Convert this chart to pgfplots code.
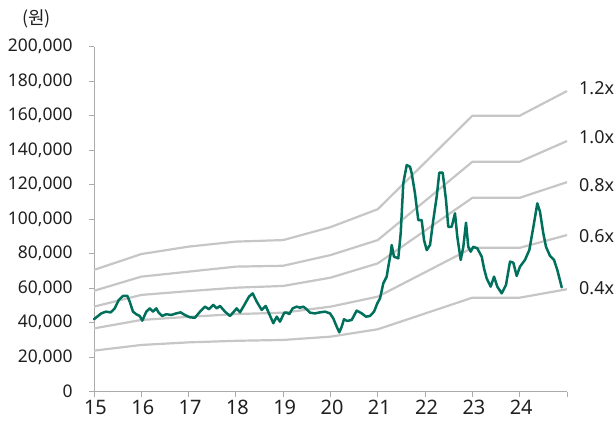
\documentclass[border=0pt]{standalone}
\usepackage{fontspec}
\setmainfont{Noto Sans}
\newfontfamily\kr{Noto Sans CJK KR}
\usepackage{pgfplots}
\pgfplotsset{compat=1.18}
\definecolor{bandgray}{HTML}{C6C6C6}
\definecolor{price}{HTML}{00705C}
\definecolor{axgray}{HTML}{ABABAB}
\definecolor{txt}{HTML}{202020}

\pgfplotstableread{
x y
15 70600
16 79800
17 84100
18 87000
19 87900
20 95400
21 105800
23 160000
24 160000
25 174300
}\bandA
\pgfplotstableread{
x y
15 58500
16 66700
17 69600
18 72500
19 73000
20 79200
21 87900
23 133300
24 133300
25 145300
}\bandB
\pgfplotstableread{
x y
15 49300
16 56100
17 58300
18 60300
19 61300
20 66100
21 74400
23 112400
24 112400
25 121500
}\bandC
\pgfplotstableread{
x y
15 36700
16 41600
17 43400
18 45000
19 45800
20 49300
21 55100
23 83400
24 83400
25 90800
}\bandD
\pgfplotstableread{
x y
15 23800
16 27100
17 28600
18 29500
19 30000
20 31900
21 36200
23 54500
24 54500
25 59400
}\bandE
\pgfplotstableread{
x y
15.000 42000
15.154 45400
15.254 46400
15.353 46000
15.438 48300
15.522 53100
15.613 55500
15.704 55600
15.755 52200
15.825 46400
15.894 44900
15.966 43900
16.021 41200
16.106 46400
16.178 48300
16.247 46400
16.317 48300
16.368 45800
16.438 43900
16.529 44900
16.634 44500
16.740 45400
16.833 46000
16.918 44500
17.030 43100
17.135 42900
17.241 46400
17.347 49300
17.431 47800
17.522 50300
17.594 48300
17.664 49700
17.770 46400
17.875 43900
17.945 46000
18.017 48300
18.087 46000
18.178 50300
18.277 55100
18.355 57000
18.440 52200
18.545 47400
18.630 49700
18.700 45400
18.791 39700
18.863 43500
18.932 40600
19.023 45800
19.074 45800
19.129 45000
19.201 48300
19.285 49300
19.355 48700
19.425 49300
19.497 47800
19.567 45800
19.672 45400
19.778 46000
19.884 46400
19.989 45400
20.059 42500
20.131 37700
20.186 34400
20.237 37700
20.285 42000
20.355 41000
20.448 41600
20.554 47000
20.660 45400
20.751 43500
20.835 43900
20.920 46400
20.989 51200
21.047 54100
21.116 62800
21.188 66700
21.222 72500
21.273 80200
21.294 85000
21.342 78300
21.433 77300
21.484 91800
21.539 120800
21.611 131400
21.681 130400
21.717 126600
21.786 115000
21.856 99500
21.928 99500
21.977 87900
22.034 82100
22.104 85000
22.173 99500
22.245 113000
22.300 127000
22.372 127000
22.442 111100
22.490 95600
22.562 95600
22.632 103400
22.681 89800
22.753 76400
22.808 84000
22.865 98000
22.913 84000
22.964 81200
23.019 84000
23.104 83100
23.197 78300
23.245 71500
23.302 65700
23.387 60900
23.457 66700
23.527 60900
23.619 57000
23.710 61900
23.795 75400
23.865 74800
23.936 67100
24.006 72500
24.112 76400
24.203 82100
24.302 97600
24.372 109200
24.429 104300
24.499 91800
24.556 84000
24.641 78700
24.725 76400
24.795 70600
24.888 60500
}\price

\begin{document}
\begin{tikzpicture}
\begin{axis}[
  at={(0,0)}, anchor=south west,
  scale only axis, width=473bp, height=345bp,
  xmin=15, xmax=25, ymin=0, ymax=200000,
  axis x line*=bottom, axis y line*=left,
  axis line style={axgray, line width=0.9bp},
  xtick={15,16,17,18,19,20,21,22,23,24,25},
  xticklabels={15,16,17,18,19,20,21,22,23,24,{}},
  ytick={0,20000,40000,60000,80000,100000,120000,140000,160000,180000,200000},
  yticklabels={0,{20,000},{40,000},{60,000},{80,000},{100,000},{120,000},{140,000},{160,000},{180,000},{200,000}},
  scaled y ticks=false,
  tick style={axgray, line width=0.9bp},
  tick align=outside, major tick length=5bp,
  yticklabel style={font=\fontsize{17.5}{17.5}\selectfont, text=txt, xshift=-13bp},
  xticklabel style={font=\fontsize{20}{20}\selectfont, text=txt, xshift=1.5bp},
  clip=false,
]
\addplot[bandgray, line width=2.2bp] table[x=x,y=y]{\bandA};
\addplot[bandgray, line width=2.2bp] table[x=x,y=y]{\bandB};
\addplot[bandgray, line width=2.2bp] table[x=x,y=y]{\bandC};
\addplot[bandgray, line width=2.2bp] table[x=x,y=y]{\bandD};
\addplot[bandgray, line width=2.2bp] table[x=x,y=y]{\bandE};
\addplot[price, line width=2.5bp, line join=round, line cap=round] table[x=x,y=y]{\price};
\tikzset{bl/.style={anchor=west, inner sep=0pt, font=\fontsize{18}{18}\selectfont, text=txt}}
\node[bl] at (axis cs:25.254,175800) {1.2x};
\node[bl] at (axis cs:25.254,147800) {1.0x};
\node[bl] at (axis cs:25.254,120000) {0.8x};
\node[bl] at (axis cs:25.254,90000) {0.6x};
\node[bl] at (axis cs:25.254,60000) {0.4x};
\node[font=\kr\fontsize{18}{18}\selectfont, text=txt] at (axis cs:13.785,216000) {(원)};
\end{axis}
\pgfresetboundingbox
\path[use as bounding box] (-94bp,-32.3bp) rectangle (520bp,391.7bp);
\end{tikzpicture}
\end{document}
